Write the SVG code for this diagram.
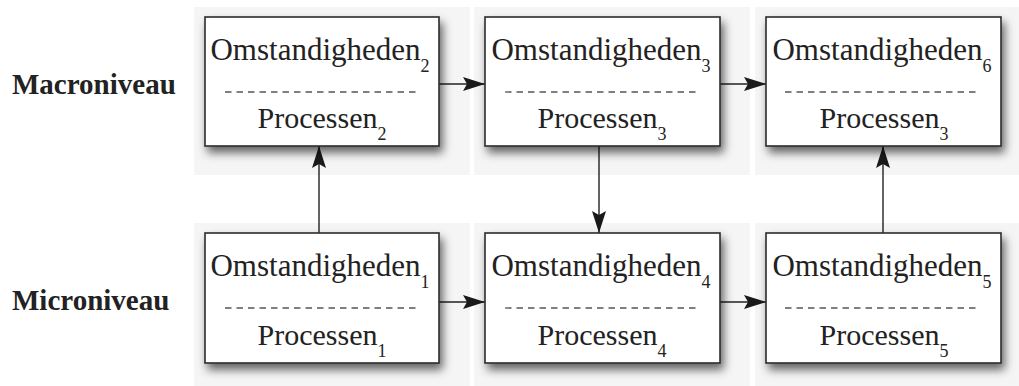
<svg xmlns="http://www.w3.org/2000/svg" width="1019" height="386" viewBox="0 0 1019 386">
  <style>
    .panel { fill: #f5f5f5; }
    .box { fill: #ffffff; stroke: #2a2a2a; stroke-width: 1.6; filter: url(#shadow); }
    .sep { stroke: #555555; stroke-width: 1.3; stroke-dasharray: 6.5 5; fill: none; }
    .t { font-family: 'Liberation Serif', 'Times New Roman', serif; font-size: 31px; fill: #222222; text-anchor: middle; }
    .p { font-size: 30px; }
    .sub { font-size: 18px; }
    .level { font-family: 'Liberation Serif', 'Times New Roman', serif; font-size: 29px; font-weight: bold; fill: #222222; }
    .edge { stroke: #222222; stroke-width: 1.4; fill: none; marker-end: url(#head); }
  </style>
  <defs>
    <filter id="shadow" x="-10%" y="-15%" width="125%" height="140%">
      <feDropShadow dx="3" dy="6" stdDeviation="5" flood-color="#000000" flood-opacity="0.6"/>
    </filter>
    <marker id="head" viewBox="0 0 22 14" refX="22" refY="7" markerWidth="22" markerHeight="14" markerUnits="userSpaceOnUse" orient="auto">
      <path d="M0,0 L22,7 L0,14 L4,7 Z" fill="#1a1a1a"/>
    </marker>
  </defs>

  <!-- background panels -->
  <g id="panels">
    <rect class="panel" x="194" y="7" width="276" height="168"/>
    <rect class="panel" x="474" y="7" width="276" height="168"/>
    <rect class="panel" x="755" y="7" width="264" height="168"/>
    <rect class="panel" x="194" y="223" width="276" height="163"/>
    <rect class="panel" x="474" y="223" width="276" height="163"/>
    <rect class="panel" x="755" y="223" width="264" height="163"/>
  </g>

  <!-- level labels -->
  <text id="label-macro" class="level" x="12" y="94">Macroniveau</text>
  <text id="label-micro" class="level" x="12" y="310">Microniveau</text>

  <!-- connectors -->
  <g id="connectors">
    <line class="edge" x1="439" y1="84" x2="485" y2="84"/>
    <line class="edge" x1="720" y1="84" x2="766" y2="84"/>
    <line class="edge" x1="439" y1="302" x2="485" y2="302"/>
    <line class="edge" x1="720" y1="302" x2="766" y2="302"/>
    <line class="edge" x1="319" y1="233" x2="319" y2="146"/>
    <line class="edge" x1="599" y1="146" x2="599" y2="233"/>
    <line class="edge" x1="883" y1="233" x2="883" y2="146"/>
  </g>

  <!-- macro level -->
  <g id="node-o2">
    <rect class="box" x="205" y="17" width="234" height="129"/>
    <text class="t" x="320" y="59.5">Omstandigheden<tspan class="sub" dy="12">2</tspan></text>
    <line class="sep" x1="225" y1="92" x2="420" y2="92"/>
    <text class="t p" x="322" y="128">Processen<tspan class="sub" dy="12">2</tspan></text>
  </g>
  <g id="node-o3">
    <rect class="box" x="485" y="17" width="235" height="129"/>
    <text class="t" x="601" y="59.5">Omstandigheden<tspan class="sub" dy="12">3</tspan></text>
    <line class="sep" x1="505" y1="92" x2="700" y2="92"/>
    <text class="t p" x="602" y="128">Processen<tspan class="sub" dy="12">3</tspan></text>
  </g>
  <g id="node-o6">
    <rect class="box" x="766" y="17" width="235" height="129"/>
    <text class="t" x="882" y="59.5">Omstandigheden<tspan class="sub" dy="12">6</tspan></text>
    <line class="sep" x1="785" y1="92" x2="980" y2="92"/>
    <text class="t p" x="884" y="128">Processen<tspan class="sub" dy="12">3</tspan></text>
  </g>

  <!-- micro level -->
  <g id="node-o1">
    <rect class="box" x="205" y="233" width="234" height="130"/>
    <text class="t" x="320" y="275.5">Omstandigheden<tspan class="sub" dy="12">1</tspan></text>
    <line class="sep" x1="225" y1="308" x2="420" y2="308"/>
    <text class="t p" x="322" y="345">Processen<tspan class="sub" dy="12">1</tspan></text>
  </g>
  <g id="node-o4">
    <rect class="box" x="485" y="233" width="235" height="130"/>
    <text class="t" x="601" y="275.5">Omstandigheden<tspan class="sub" dy="12">4</tspan></text>
    <line class="sep" x1="505" y1="308" x2="700" y2="308"/>
    <text class="t p" x="602" y="345">Processen<tspan class="sub" dy="12">4</tspan></text>
  </g>
  <g id="node-o5">
    <rect class="box" x="766" y="233" width="235" height="130"/>
    <text class="t" x="882" y="275.5">Omstandigheden<tspan class="sub" dy="12">5</tspan></text>
    <line class="sep" x1="785" y1="308" x2="980" y2="308"/>
    <text class="t p" x="884" y="345">Processen<tspan class="sub" dy="12">5</tspan></text>
  </g>
</svg>
